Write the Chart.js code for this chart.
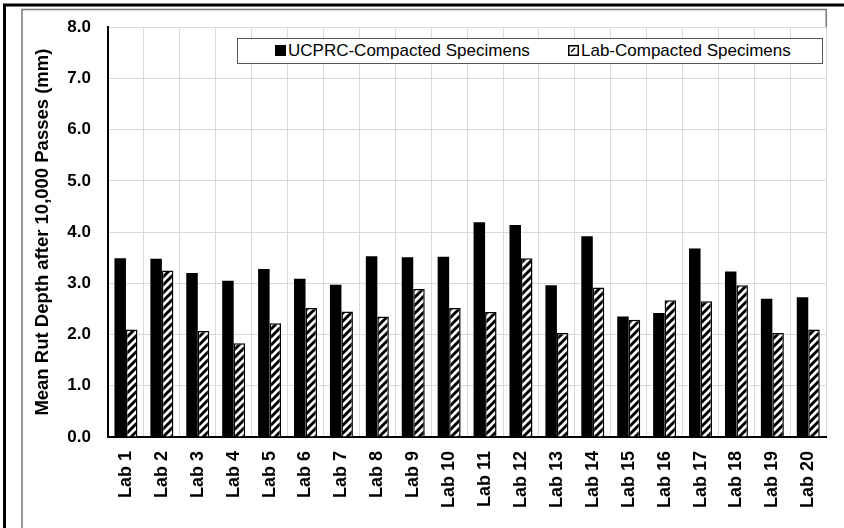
<!DOCTYPE html>
<html>
<head>
<meta charset="utf-8">
<title>Mean Rut Depth after 10,000 Passes</title>
<script src="https://cdn.jsdelivr.net/npm/chart.js@4/dist/chart.umd.min.js"></script>
<style>
    html, body { margin: 0; padding: 0; background: #fff; }
    #wrap { position: relative; width: 844px; height: 528px; overflow: hidden; }
    #chart { position: absolute; left: 0; top: 0; }
    .legend-box {
        position: absolute; left: 237px; top: 38px; width: 584px; height: 24px;
        border: 1px solid #555; background: #fff;
        font-family: "Liberation Sans", Arial, sans-serif; font-size: 17px; color: #000;
    }
    .legend-item { position: absolute; top: 0; height: 24px; line-height: 24px; white-space: nowrap; }
    .legend-item canvas { position: absolute; top: 6px; left: 0; }
    .legend-item span { position: absolute; left: 13px; top: 0; }
</style>
</head>
<body>
<div id="wrap">
    <canvas id="chart" width="844" height="528"></canvas>
    <div class="legend-box">
        <div class="legend-item" style="left:37px"><canvas id="lg-ucprc" width="11" height="11"></canvas><span>UCPRC-Compacted Specimens</span></div>
        <div class="legend-item" style="left:330px"><canvas id="lg-lab" width="11" height="11"></canvas><span>Lab-Compacted Specimens</span></div>
    </div>
</div>
<script>
    'use strict';

    // Data
    const labs = ['Lab 1', 'Lab 2', 'Lab 3', 'Lab 4', 'Lab 5', 'Lab 6', 'Lab 7', 'Lab 8', 'Lab 9', 'Lab 10',
                  'Lab 11', 'Lab 12', 'Lab 13', 'Lab 14', 'Lab 15', 'Lab 16', 'Lab 17', 'Lab 18', 'Lab 19', 'Lab 20'];
    const ucprcRut = [3.49, 3.48, 3.20, 3.05, 3.28, 3.09, 2.97, 3.53, 3.51, 3.52,
                      4.19, 4.14, 2.96, 3.92, 2.35, 2.42, 3.68, 3.23, 2.70, 2.73];
    const labRut = [2.10, 3.25, 2.07, 1.83, 2.22, 2.52, 2.45, 2.35, 2.89, 2.52,
                    2.44, 3.49, 2.03, 2.92, 2.29, 2.67, 2.65, 2.96, 2.03, 2.10];
    const seriesNames = ['UCPRC-Compacted Specimens', 'Lab-Compacted Specimens'];
    const yMin = 0, yMax = 8, yStep = 1;
    const yTitle = 'Mean Rut Depth after 10,000 Passes (mm)';

    const FONT = '"Liberation Sans", Arial, sans-serif';

    // Diagonal hatch pattern for the lab series
    function makeHatch() {
        const c = document.createElement('canvas');
        c.width = 8; c.height = 8;
        const g = c.getContext('2d');
        g.fillStyle = '#fff';
        g.fillRect(0, 0, 8, 8);
        g.strokeStyle = '#000';
        g.lineWidth = 3;
        g.beginPath();
        g.moveTo(-2, 10); g.lineTo(10, -2);
        g.moveTo(-6, 6); g.lineTo(6, -6);
        g.moveTo(2, 14); g.lineTo(14, 2);
        g.stroke();
        return document.getElementById('chart').getContext('2d').createPattern(c, 'repeat');
    }
    const hatch = makeHatch();

    // Legend swatches
    (function() {
        const a = document.getElementById('lg-ucprc').getContext('2d');
        a.fillStyle = '#000';
        a.fillRect(0, 0, 11, 11);
        const b = document.getElementById('lg-lab').getContext('2d');
        b.fillStyle = '#fff';
        b.fillRect(0, 0, 11, 11);
        b.strokeStyle = '#000';
        b.lineWidth = 1.5;
        b.strokeRect(0.75, 0.75, 9.5, 9.5);
        b.beginPath();
        b.moveTo(7, 3); b.lineTo(3, 7);
        b.stroke();
    })();

    // Frame lines around the figure (decoration only)
    const framePlugin = {
        id: 'frame',
        afterDraw(chart) {
            const ctx = chart.ctx;
            const area = chart.chartArea;
            ctx.save();
            ctx.strokeStyle = '#777';
            ctx.lineWidth = 1.5;
            ctx.beginPath();
            ctx.moveTo(22, 528);
            ctx.lineTo(22, 9.5);
            ctx.lineTo(area.right, 9.5);
            ctx.lineTo(area.right, area.top);
            ctx.stroke();
            ctx.strokeStyle = '#000';
            ctx.lineWidth = 3;
            ctx.beginPath();
            ctx.moveTo(4.5, 528);
            ctx.lineTo(4.5, 5);
            ctx.lineTo(844, 5);
            ctx.stroke();
            ctx.restore();
        }
    };

    new Chart(document.getElementById('chart'), {
        type: 'bar',
        data: {
            labels: labs,
            datasets: [{
                label: seriesNames[0],
                data: ucprcRut,
                backgroundColor: '#000',
                borderWidth: 0
            }, {
                label: seriesNames[1],
                data: labRut,
                backgroundColor: hatch,
                borderColor: '#000',
                borderWidth: 1.5
            }]
        },
        options: {
            responsive: false,
            animation: false,
            devicePixelRatio: 1,
            layout: { padding: { top: 27, right: 5, left: 0, bottom: 0 } },
            datasets: {
                bar: { categoryPercentage: 0.64, barPercentage: 1.0 }
            },
            plugins: {
                legend: { display: false },
                tooltip: { enabled: false }
            },
            scales: {
                x: {
                    grid: { color: '#d9d9d9', lineWidth: 1, drawTicks: false, offset: true },
                    border: { color: '#000', width: 2 },
                    ticks: {
                        color: '#000',
                        font: { family: FONT, size: 18, weight: 'bold' },
                        maxRotation: 90,
                        minRotation: 90,
                        padding: 14,
                        autoSkip: false
                    },
                    afterFit: function(scale) { scale.height = 91; }
                },
                y: {
                    min: yMin,
                    max: yMax,
                    grid: { color: '#d9d9d9', lineWidth: 1, drawTicks: false },
                    border: { color: '#000', width: 2 },
                    ticks: {
                        stepSize: yStep,
                        color: '#000',
                        padding: 17,
                        font: { family: FONT, size: 17, weight: 'bold' },
                        callback: function(v) { return v.toFixed(1); }
                    },
                    title: {
                        display: true,
                        text: yTitle,
                        color: '#000',
                        font: { family: FONT, size: 18.5, weight: 'bold' },
                        padding: { top: 32, bottom: 0 }
                    },
                    afterFit: function(scale) { scale.width = 108; }
                }
            }
        },
        plugins: [framePlugin]
    });
</script>
</body>
</html>
